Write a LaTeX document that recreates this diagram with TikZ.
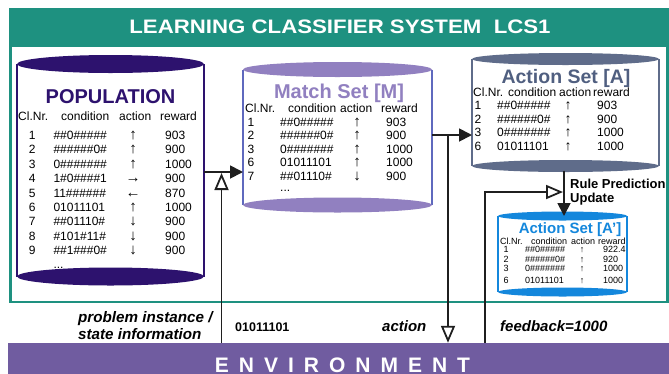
\documentclass[tikz,border=0pt]{standalone}
\usepackage{fontspec}
\setmainfont{Liberation Sans}
\usetikzlibrary{arrows.meta}

\definecolor{lcsteal}{RGB}{30,145,128}
\definecolor{envpurple}{RGB}{112,92,160}
\definecolor{popdark}{RGB}{45,18,110}
\definecolor{matchlav}{RGB}{145,128,192}
\definecolor{matchedge}{RGB}{95,105,190}
\definecolor{actslate}{RGB}{95,108,138}
\definecolor{acttitle}{RGB}{80,95,128}
\definecolor{newblue}{RGB}{20,135,220}

\newcommand\pxf[1]{\fontsize{#1}{#1}\selectfont}
% action arrows in the rule tables, a little larger than the font's own
\newcommand\lcsarr[1]{\scalebox{1.25}{#1}}

% cylinder drawn around an invisible body node
% #1 node, #2 x radius, #3 y radius, #4 cap colour, #5 side colour, #6 side width
\newcommand\lcscyl[6]{%
  \fill[white] (#1.north west) rectangle (#1.south east);
  \draw[#5, line width=#6] (#1.north west) -- (#1.south west)
                           (#1.north east) -- (#1.south east);
  \fill[#4] (#1.north) ellipse [x radius=#2, y radius=#3];
  \fill[#4] (#1.south) ellipse [x radius=#2, y radius=#3];
}

\tikzset{
  body/.style={inner sep=0pt, outer sep=0pt, minimum width=#1},
  cell/.style={inner sep=0pt, anchor=base},
  cellw/.style={inner sep=0pt, anchor=base west},
  conn/.style={line width=1.8pt, draw=black!88},
  filledtip/.style={-{Triangle[length=13pt,width=13pt]}},
  opentip/.style={-{Triangle[open,length=17pt,width=14pt]}},
}

\begin{document}
\begin{tikzpicture}[x=1pt,y=-1pt]
\useasboundingbox (0,0) rectangle (669,373);
\fill[white] (0,0) rectangle (669,373);

% system frame and title band
\fill[lcsteal] (9,7.5) rectangle (669,47);
\draw[lcsteal, line width=2.8pt] (10.5,46) -- (10.5,302) -- (667.5,302) -- (667.5,46);
\node[inner sep=0pt, anchor=base, text=white, font=\bfseries\pxf{19.5}] (hdr) at (340,33.5)
  {\scalebox{1.14}[1]{LEARNING CLASSIFIER SYSTEM\ \ LCS1}};

% environment band
\node[fill=envpurple, inner sep=0pt, minimum width=661pt, minimum height=31pt] (env) at (338.5,358.5) {};
\node[inner sep=0pt, anchor=base, text=white, font=\bfseries\pxf{21}] (envtxt) at (342.5,372)
  {\spaceskip=10pt\relax E N V I R O N M E N T};

% set bodies
\node[body=187pt, minimum height=212.5pt] (pop) at (110.5,170.25) {};
\node[body=189pt, minimum height=135.5pt] (ms) at (337.5,137.25) {};
\node[body=187pt, minimum height=107pt] (as) at (565.5,112.5) {};
\node[body=129pt, minimum height=76pt] (ap) at (562.5,254) {};

\lcscyl{pop}{93.5pt}{9pt}{popdark}{popdark}{2.6pt}
\lcscyl{ms}{94.5pt}{7.5pt}{matchlav}{matchedge}{1.6pt}
\lcscyl{as}{93.5pt}{6pt}{actslate}{actslate}{2.2pt}
\lcscyl{ap}{64.5pt}{4.5pt}{newblue}{newblue}{2.2pt}

% POPULATION
\node[cell, text=popdark, font=\bfseries\pxf{20}] (poptitle) at (110.5,103) {POPULATION};
\begin{scope}[font=\pxf{12}]
\node[cellw] (poph1) at (18,120) {Cl.Nr.};
\node[cellw] (poph2) at (61,120) {condition};
\node[cellw] (poph3) at (119,120) {action};
\node[cellw] (poph4) at (160,120) {reward};
\foreach \n/\c/\a/\r [count=\i] in {
  1/\#\#0\#\#\#\#\#/↑/903,
  2/\#\#\#\#\#\#0\#/↑/900,
  3/0\#\#\#\#\#\#\#/↑/1000,
  4/1\#0\#\#\#\#1/→/900,
  5/11\#\#\#\#\#\#/←/870,
  6/01011101/↑/1000,
  7/\#\#01110\#/↓/900,
  8/\#101\#11\#/↓/900,
  9/\#\#1\#\#\#0\#/↓/900}{
  \pgfmathsetmacro\yy{139.5+14.4*(\i-1)}
  \node[cell]  (popn\i) at (32.3,\yy) {\n};
  \node[cellw] (popc\i) at (53.3,\yy) {\c};
  \node[cell]  (popa\i) at (133,\yy) {\lcsarr{\a}};
  \node[cellw] (popr\i) at (165,\yy) {\r};
}
\node[cellw] (popdots) at (53.3,268) {...};
\end{scope}

% Match Set [M]
\node[cell, text=matchlav, font=\bfseries\pxf{20}] (mstitle) at (339,98) {Match Set [M]};
\begin{scope}[font=\pxf{12}]
\node[cellw] (msh1) at (245,112) {Cl.Nr.};
\node[cellw] (msh2) at (288,112) {condition};
\node[cellw] (msh3) at (340,112) {action};
\node[cellw] (msh4) at (381,112) {reward};
\foreach \n/\c/\a/\r [count=\i] in {
  1/\#\#0\#\#\#\#\#/↑/903,
  2/\#\#\#\#\#\#0\#/↑/900,
  3/0\#\#\#\#\#\#\#/↑/1000,
  6/01011101/↑/1000,
  7/\#\#01110\#/↓/900}{
  \pgfmathsetmacro\yy{126+13.5*(\i-1)}
  \node[cell]  (msn\i) at (251,\yy) {\n};
  \node[cellw] (msc\i) at (280,\yy) {\c};
  \node[cell]  (msa\i) at (357,\yy) {\lcsarr{\a}};
  \node[cellw] (msr\i) at (386,\yy) {\r};
}
\node[cellw] (msdots) at (280,191) {...};
\end{scope}

% Action Set [A]
\node[cell, text=acttitle, font=\bfseries\pxf{19.5}] (astitle) at (566,83) {Action Set [A]};
\begin{scope}[font=\pxf{12}]
\node[cellw] (ash1) at (473,96.5) {Cl.Nr.};
\node[cellw] (ash2) at (508,96.5) {condition};
\node[cellw] (ash3) at (559,96.5) {action};
\node[cellw] (ash4) at (593,96.5) {reward};
\foreach \n/\c/\a/\r [count=\i] in {
  1/\#\#0\#\#\#\#\#/↑/903,
  2/\#\#\#\#\#\#0\#/↑/900,
  3/0\#\#\#\#\#\#\#/↑/1000,
  6/01011101/↑/1000}{
  \pgfmathsetmacro\yy{109.8+13.5*(\i-1)}
  \node[cell]  (asn\i) at (478,\yy) {\n};
  \node[cellw] (asc\i) at (497,\yy) {\c};
  \node[cell]  (asa\i) at (568,\yy) {\scalebox{1.15}{\a}};
  \node[cellw] (asr\i) at (597,\yy) {\r};
}
\end{scope}

% Action Set [A']
\node[cell, text=newblue, font=\bfseries\pxf{15}] (aptitle) at (570,233) {Action Set [A’]};
\begin{scope}[font=\pxf{9}]
\node[cellw] (aph1) at (500,244) {Cl.Nr.};
\node[cellw] (aph2) at (531,244) {condition};
\node[cellw] (aph3) at (571,244) {action};
\node[cellw] (aph4) at (598,244) {reward};
\foreach \n/\c/\a/\r/\yy [count=\i] in {
  1/\#\#0\#\#\#\#\#/↑/922.4/252.7,
  2/\#\#\#\#\#\#0\#/↑/920/262.7,
  3/0\#\#\#\#\#\#\#/↑/1000/271.7,
  6/01011101/↑/1000/283.3}{
  \node[cell]  (apn\i) at (506,\yy) {\n};
  \node[cellw] (apc\i) at (525,\yy) {\c};
  \node[cell]  (apa\i) at (582,\yy) {\a};
  \node[cellw] (apr\i) at (603,\yy) {\r};
}
\end{scope}

% connectors
\coordinate (probJoin) at (221.5,172);
\coordinate (actJoin) at (448,135);
\coordinate (fbCorner) at (485,192);
\coordinate (updX) at (564,0);

\draw[conn, filledtip] (pop.east |- probJoin) -- (ms.west |- probJoin);
\draw[conn, opentip] (env.north -| probJoin) -- ([yshift=-1pt]probJoin);
\draw[conn, filledtip] (ms.east |- actJoin) -- (as.west |- actJoin);
\draw[conn, opentip] (actJoin) -- (env.north -| actJoin);
\draw[conn, filledtip] ([yshift=-4.5pt]as.south -| updX) -- (ap.north -| updX);
\draw[conn, opentip] (env.north -| fbCorner) -- (fbCorner) -- ([xshift=-1pt]fbCorner -| updX);

% labels
\node[cellw, font=\bfseries\pxf{13}] (rulelbl) at (570,188) {Rule Prediction};
\node[cellw, font=\bfseries\pxf{13}] (updlbl) at (570,202) {Update};
\node[cellw, font=\bfseries\itshape\pxf{15.2}] (problbl) at (78,322) {problem instance /};
\node[cellw, font=\bfseries\itshape\pxf{15.2}] (statelbl) at (78,339) {state information};
\node[cellw, font=\bfseries\pxf{12.5}] (inputlbl) at (235,331.5) {01011101};
\node[cellw, font=\bfseries\itshape\pxf{15}] (actlbl) at (382,331) {action};
\node[cellw, font=\bfseries\itshape\pxf{15}] (fblbl) at (500,331) {feedback=1000};
\end{tikzpicture}
\end{document}
